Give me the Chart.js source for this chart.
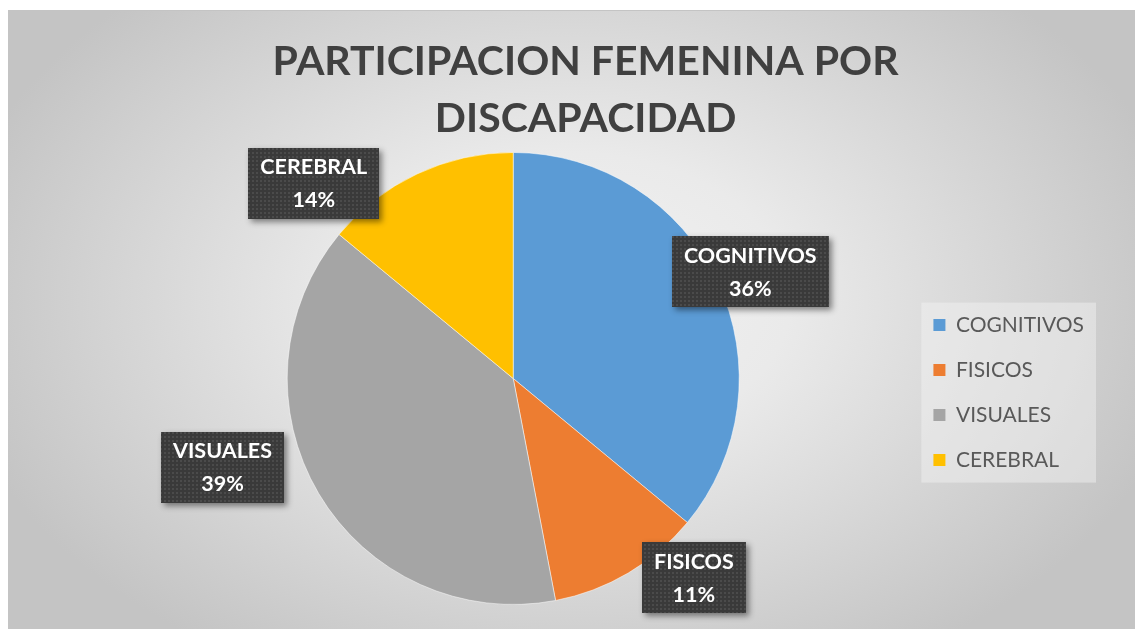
<!DOCTYPE html>
<html>
<head>
<meta charset="utf-8">
<script src="https://cdn.jsdelivr.net/npm/chart.js@4.4.0/dist/chart.umd.min.js"></script>
<style>
  html, body { margin: 0; padding: 0; background: #fff; }
</style>
</head>
<body>
<canvas id="canvas" width="1135" height="629"></canvas>
<script>
// Datos del gráfico
const categorias = ['COGNITIVOS', 'FISICOS', 'VISUALES', 'CEREBRAL'];
const valores = [36, 11, 39, 14];
const colores = ['#5B9BD5', '#ED7D31', '#A5A5A5', '#FFC000'];
const titulo = ['PARTICIPACION FEMENINA POR', 'DISCAPACIDAD'];

// Espacios al final para correr el título un poco a la izquierda, como en Excel
const relleno = '    ';

// Trama de puntos para las etiquetas oscuras
function crearTrama() {
    const c = document.createElement('canvas');
    c.width = 4; c.height = 4;
    const t = c.getContext('2d');
    t.fillStyle = '#3a3a3a';
    t.fillRect(0, 0, 4, 4);
    t.fillStyle = '#4b4b4b';
    t.fillRect(0, 0, 2, 2);
    return c;
}

/**
 * Fondo degradado y caja de la leyenda.
 */
const fondo = {
    id: 'fondo',
    beforeDraw(chart) {
        const { ctx, width, height } = chart;
        ctx.save();
        ctx.fillStyle = '#fff';
        ctx.fillRect(0, 0, width, height);
        ctx.beginPath();
        ctx.rect(8, 10, width - 8, height - 10);
        ctx.clip();
        ctx.translate(570, 300);
        ctx.scale(1.5, 1);
        const g = ctx.createRadialGradient(0, 0, 0, 0, 0, 420);
        g.addColorStop(0, '#f2f2f2');
        g.addColorStop(0.35, '#eaeaea');
        g.addColorStop(1, '#c4c4c4');
        ctx.fillStyle = g;
        ctx.fillRect(-600, -400, 1200, 800);
        ctx.restore();

        // borde superior
        ctx.fillStyle = '#c4c4c4';
        ctx.fillRect(8, 10, width - 8, 1);

        // caja de la leyenda
        const hb = chart.legend.legendHitBoxes;
        if (hb && hb.length) {
            const pad = chart.legend.options.labels.padding;
            const first = hb[0], last = hb[hb.length - 1];
            const x0 = first.left - 12;
            const y0 = first.top - pad / 2;
            const w = Math.max(...hb.map(b => b.width)) + 24;
            const h = last.top + last.height + pad / 2 - y0;
            ctx.fillStyle = 'rgba(245,245,245,0.45)';
            ctx.fillRect(x0, y0, w, h);
        }
    }
};

/**
 * Etiquetas de datos: nombre y porcentaje en caja oscura.
 */
const etiquetas = {
    id: 'etiquetas',
    afterDatasetsDraw(chart, args, opts) {
        const { ctx } = chart;
        const arcs = chart.getDatasetMeta(0).data;
        const total = valores.reduce((a, b) => a + b, 0);
        const trama = ctx.createPattern(crearTrama(), 'repeat');
        ctx.save();
        ctx.font = 'bold 21.5px Lato';
        ctx.textAlign = 'center';
        ctx.textBaseline = 'middle';
        arcs.forEach((arc, i) => {
            const p = arc.getProps(['x', 'y', 'startAngle', 'endAngle', 'outerRadius'], true);
            const pos = opts.posiciones[i];
            const a = (p.startAngle + p.endAngle) / 2 + pos.ang * Math.PI / 180;
            const cx = p.x + Math.cos(a) * p.outerRadius * pos.dist;
            const cy = p.y + Math.sin(a) * p.outerRadius * pos.dist;
            const l1 = categorias[i];
            const l2 = Math.round(valores[i] / total * 100) + '%';
            const w = Math.max(ctx.measureText(l1).width, ctx.measureText(l2).width) + 24;
            const h = 71;
            const bx = Math.round(cx - w / 2), by = Math.round(cy - h / 2);

            ctx.save();
            ctx.shadowColor = 'rgba(0,0,0,0.45)';
            ctx.shadowBlur = 6;
            ctx.shadowOffsetX = 3;
            ctx.shadowOffsetY = 3;
            ctx.fillStyle = '#3a3a3a';
            ctx.fillRect(bx, by, w, h);
            ctx.restore();
            ctx.fillStyle = trama;
            ctx.fillRect(bx, by, w, h);

            ctx.fillStyle = '#ffffff';
            ctx.fillText(l1, cx, cy - 16);
            ctx.fillText(l2, cx, cy + 17);
        });
        ctx.restore();
    }
};

const config = {
    type: 'pie',
    data: {
        labels: categorias,
        datasets: [{
            data: valores,
            backgroundColor: colores,
            borderColor: 'rgba(255,255,255,0.5)',
            borderWidth: 1
        }]
    },
    options: {
        responsive: false,
        animation: false,
        layout: {
            padding: { left: 117, right: 41, top: 0, bottom: 24 }
        },
        plugins: {
            title: {
                display: true,
                text: titulo.map(t => t + relleno),
                color: '#404040',
                font: { family: 'Lato', size: 41, weight: 'bold', lineHeight: 1.39 },
                padding: { top: 33, bottom: 5 }
            },
            legend: {
                position: 'right',
                align: 'center',
                title: { display: true, text: '', font: { size: 1 }, padding: { top: 179, bottom: 0 } },
                labels: {
                    boxWidth: 12,
                    boxHeight: 12,
                    padding: 24,
                    color: '#595959',
                    font: { family: 'Lato', size: 21 },
                    generateLabels(chart) {
                        const items = Chart.overrides.pie.plugins.legend.labels.generateLabels(chart);
                        items.forEach(it => { it.lineWidth = 0; it.strokeStyle = 'rgba(0,0,0,0)'; });
                        return items;
                    }
                }
            },
            tooltip: { enabled: false },
            etiquetas: {
                posiciones: [
                    { ang: 1, dist: 1.15 },
                    { ang: -11.6, dist: 1.19 },
                    { ang: 13.6, dist: 1.345 },
                    { ang: -20.4, dist: 1.235 }
                ]
            }
        }
    },
    plugins: [fondo, etiquetas]
};

let grafico;

function init() {
    grafico = new Chart('canvas', config);
}

Promise.all([
    document.fonts.load('bold 41px Lato'),
    document.fonts.load('bold 21.5px Lato'),
    document.fonts.load('21px Lato')
]).then(init, init);
</script>
</body>
</html>
